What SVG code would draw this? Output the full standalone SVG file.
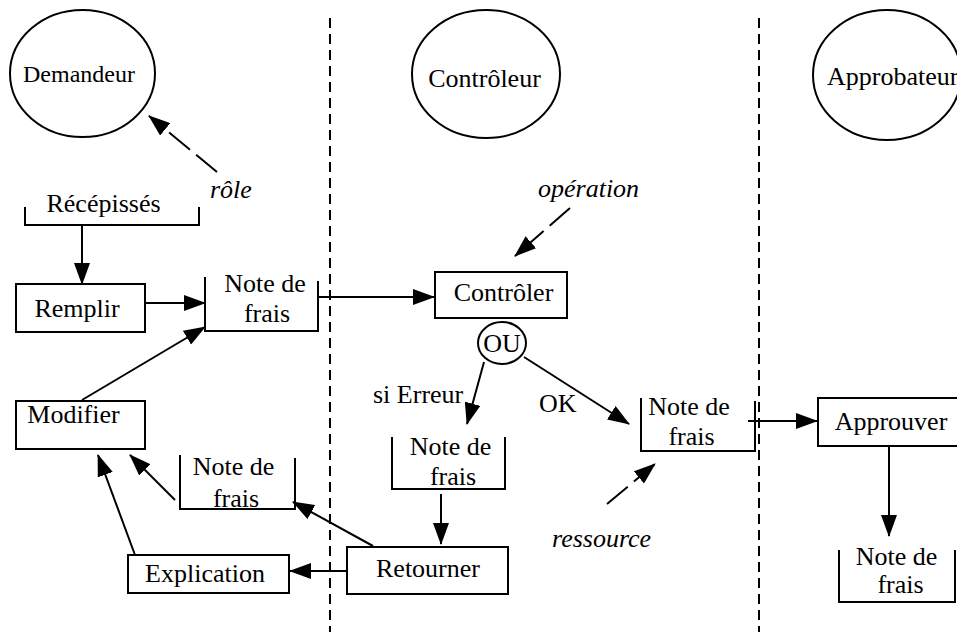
<svg xmlns="http://www.w3.org/2000/svg" width="957" height="632" viewBox="0 0 957 632">
<style>
  .shape { fill: none; stroke: #000; stroke-width: 2; }
  .box { fill: #fff; stroke: #000; stroke-width: 2; }
  text { font-family: 'Liberation Serif', Tinos, 'Times New Roman', Times, 'DejaVu Serif', serif; font-size: 26px; fill: #000; }
  .c { text-anchor: middle; }
  .i { font-style: italic; }
  .conn { fill: none; stroke: #000; stroke-width: 2; marker-end: url(#arrow); }
  .dash { stroke-dasharray: 27 8; }
  .lane { fill: none; stroke: #000; stroke-width: 2; stroke-dasharray: 10 6; }
</style>
<defs>
  <marker id="arrow" markerUnits="userSpaceOnUse" markerWidth="22" markerHeight="16" refX="21" refY="8" orient="auto">
    <path d="M0,0 L22,8 L0,16 z" fill="#000"/>
  </marker>
</defs>
<rect x="0" y="0" width="957" height="632" fill="#fff"/>

<g id="lanes">
  <line class="lane" x1="330" y1="18" x2="330" y2="632"/>
  <line class="lane" x1="759" y1="18" x2="759" y2="632"/>
</g>

<g id="demandeur">
  <ellipse class="shape" cx="82.5" cy="73.5" rx="72.5" ry="63.5"/>
  <text class="c" font-family="Liberation Serif, serif" x="79" y="82" style="font-size:24px">Demandeur</text>
</g>
<g id="controleur">
  <ellipse class="shape" cx="486" cy="74" rx="74" ry="64"/>
  <text class="c" font-family="Liberation Serif, serif" x="484.5" y="87">Contrôleur</text>
</g>
<g id="approbateur">
  <ellipse class="shape" cx="887" cy="75" rx="74" ry="65"/>
  <text font-family="Liberation Serif, serif" x="827" y="85">Approbateur</text>
</g>

<g id="recepisses">
  <path class="shape" d="M25,207 V225 H199 V207"/>
  <text class="c" x="103.5" y="212">Récépissés</text>
</g>

<g id="remplir">
  <rect class="box" x="16" y="284" width="129" height="48"/>
  <text class="c" x="77" y="317">Remplir</text>
</g>
<g id="modifier">
  <rect class="box" x="16" y="401" width="129" height="48"/>
  <text class="c" x="73.5" y="423">Modifier</text>
</g>
<g id="explication">
  <rect class="box" x="128" y="555" width="161" height="38"/>
  <text class="c" x="205" y="582">Explication</text>
</g>
<g id="retourner">
  <rect class="box" x="347" y="547" width="161" height="47"/>
  <text class="c" x="428" y="577">Retourner</text>
</g>
<g id="controler">
  <rect class="box" x="435" y="272" width="132" height="46"/>
  <text class="c" x="503.5" y="301">Contrôler</text>
</g>
<g id="approuver">
  <rect class="box" x="818" y="398" width="142" height="48"/>
  <text class="c" x="891" y="430">Approuver</text>
</g>
<g id="ou">
  <ellipse class="box" cx="502" cy="343" rx="24" ry="21"/>
  <text class="c" x="502" y="352">OU</text>
</g>

<g id="note1">
  <path class="shape" d="M205,277 V331 H318 V281"/>
  <text class="c" x="265" y="292">Note de</text>
  <text class="c" x="267" y="322">frais</text>
</g>
<g id="note2">
  <path class="shape" d="M180,455 V509 H295 V458"/>
  <text class="c" x="233.5" y="475">Note de</text>
  <text class="c" x="236" y="507">frais</text>
</g>
<g id="note3">
  <path class="shape" d="M392,437 V489 H505 V437"/>
  <text class="c" x="450.5" y="455">Note de</text>
  <text class="c" x="453" y="485">frais</text>
</g>
<g id="note4">
  <path class="shape" d="M641,398 V451 H755 V401"/>
  <text class="c" x="689" y="415">Note de</text>
  <text class="c" x="691.5" y="445">frais</text>
</g>
<g id="note5">
  <path class="shape" d="M839,550 V602 H955 V550"/>
  <text class="c" x="896.5" y="565">Note de</text>
  <text class="c" x="900.5" y="593">frais</text>
</g>

<g id="labels">
  <text class="i" x="210" y="198">rôle</text>
  <text class="i" x="538" y="197">opération</text>
  <text class="i" x="552" y="547">ressource</text>
  <text x="373" y="403">si Erreur</text>
  <text x="539" y="412">OK</text>
</g>

<g id="connectors">
  <line class="conn" x1="82" y1="226" x2="82" y2="284"/>
  <line class="conn" x1="145" y1="303" x2="205" y2="303"/>
  <line class="conn" x1="82" y1="400" x2="205" y2="327"/>
  <line class="conn" x1="318" y1="297" x2="434" y2="297"/>
  <line class="conn" x1="484" y1="362" x2="467" y2="424"/>
  <line class="conn" x1="524" y1="357" x2="629" y2="424"/>
  <line class="conn" x1="441" y1="494" x2="441" y2="544"/>
  <line class="conn" x1="373" y1="546" x2="293" y2="502"/>
  <line class="conn" x1="347" y1="571" x2="290" y2="571"/>
  <line class="conn" x1="175" y1="500" x2="130" y2="455"/>
  <line class="conn" x1="135" y1="555" x2="98" y2="455"/>
  <line class="conn" x1="748" y1="421" x2="817" y2="421"/>
  <line class="conn" x1="889" y1="447" x2="889" y2="536"/>
  <line class="conn dash" x1="217" y1="172" x2="149" y2="116"/>
  <line class="conn dash" x1="570" y1="208" x2="515" y2="256"/>
  <line class="conn dash" x1="607" y1="504" x2="655" y2="464"/>
</g>
</svg>
